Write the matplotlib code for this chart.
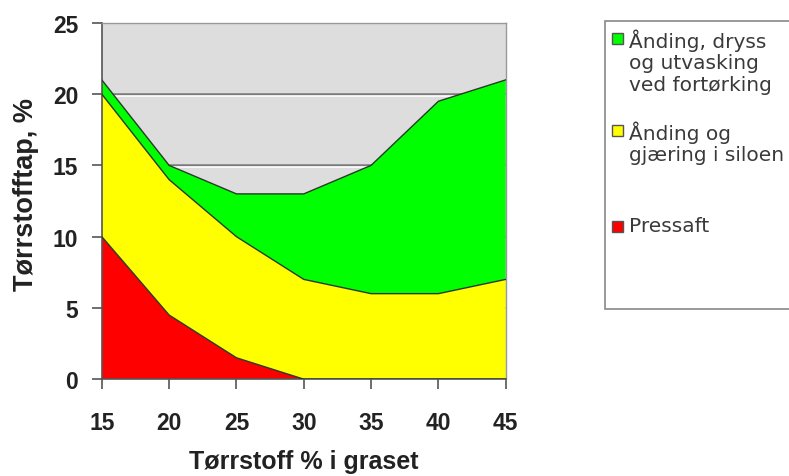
import matplotlib
matplotlib.use("Agg")
from matplotlib import pyplot as plt
from matplotlib.patches import Rectangle
from matplotlib.transforms import offset_copy
import numpy as np

# Tørrstoff i graset (%)
torrstoff = [15, 20, 25, 30, 35, 40, 45]
# tap per kilde, stablet
pressaft = [10, 4.5, 1.5, 0, 0, 0, 0]
siloen = [10, 9.5, 8.5, 7, 6, 6, 7]
fortorking = [1, 1, 3, 6, 9, 13.5, 14]

serie_navn = ["Ånding, dryss\nog utvasking\nved fortørking",
              "Ånding og\ngjæring i siloen",
              "Pressaft"]
farger = ["#00FF00", "#FFFF00", "#FF0000"]

y_ticks = [0, 5, 10, 15, 20, 25]
x_ticks = [15, 20, 25, 30, 35, 40, 45]

fig = plt.figure(figsize=(7.89, 4.77), dpi=100)
ax = fig.add_axes([0.129, 0.203, 0.512, 0.747])
ax.set_facecolor("#DDDDDD")

x = np.array(torrstoff)
bunn = np.zeros(len(x))
for verdier, farge in zip([pressaft, siloen, fortorking], farger[::-1]):
    topp = bunn + np.array(verdier)
    ax.fill_between(x, bunn, topp, facecolor=farge, edgecolor="none", zorder=2)
    ax.plot(x, topp, color="#2a3a2a", lw=1.0, zorder=3)
    bunn = topp

# rutenett med lys skygge under
skygge = offset_copy(ax.get_yaxis_transform(), fig=fig, y=-1.5, units="points")
for g in [5, 10, 15, 20]:
    ax.axhline(g, color="#7a7a7a", lw=1.8, zorder=1)
    ax.plot([0, 1], [g, g], color="white", lw=1.2, zorder=1, transform=skygge)

ax.set_xlim(15, 45)
ax.set_ylim(0, 25)
ax.set_xticks(x_ticks)
ax.set_yticks(y_ticks)
ax.tick_params(axis="both", length=7, width=1.2, color="#555555",
               labelsize=16.5, labelcolor="#222222")
ax.tick_params(axis="x", pad=16)
ax.tick_params(axis="y", pad=10)
for lab in ax.get_xticklabels() + ax.get_yticklabels():
    lab.set_fontweight("bold")
    lab.set_fontfamily("Liberation Sans")

for side in ["left", "bottom"]:
    ax.spines[side].set_color("#555555")
    ax.spines[side].set_linewidth(1.2)
for side in ["top", "right"]:
    ax.spines[side].set_color("#999999")
    ax.spines[side].set_linewidth(1.0)

ax.set_xlabel("Tørrstoff % i graset", fontsize=18, fontweight="bold",
              family="Liberation Sans", color="#222222", labelpad=11)
ax.set_ylabel("Tørrstofftap, %", fontsize=19.5, fontweight="bold",
              family="Liberation Sans", color="#222222")
ax.yaxis.set_label_coords(-0.156, 0.52)

# forklaring (legend) til høyre
W, H = 789.0, 477.0
fig.patches.append(Rectangle((605 / W, 1 - 310 / H), 200 / W, 288 / H,
                             transform=fig.transFigure, facecolor="white",
                             edgecolor="#888888", lw=1.2))
rader = [40, 132, 228]
for navn, farge, yy in zip(serie_navn, farger, rader):
    fig.patches.append(Rectangle((612 / W, 1 - (yy + 5) / H), 11 / W, 11 / H,
                                 transform=fig.transFigure, facecolor=farge,
                                 edgecolor="#555555", lw=1.0))
    fig.text(629 / W, 1 - (yy - 11) / H, navn, fontsize=14.5, color="#3a3a3a",
             va="top", ha="left", linespacing=1.18, family="DejaVu Sans")

fig.savefig("out.png", dpi=100)
